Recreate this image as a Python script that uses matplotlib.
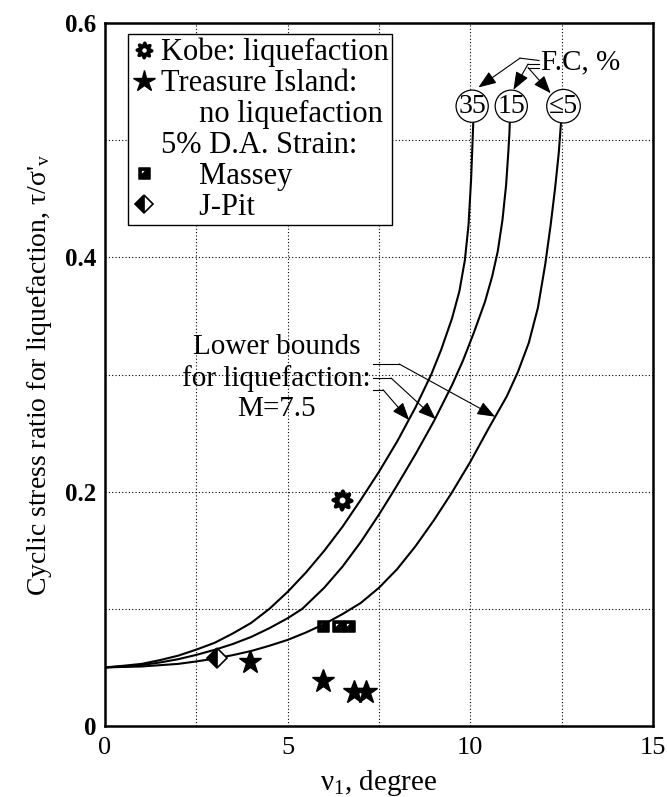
import numpy as np
import matplotlib
matplotlib.use("Agg")
import matplotlib.pyplot as plt
from matplotlib.lines import Line2D
from matplotlib.path import Path

plt.rcParams.update({
    "font.family": ["Liberation Serif", "DejaVu Serif"],
    "mathtext.fontset": "custom",
    "mathtext.rm": "Liberation Serif",
    "mathtext.it": "Liberation Serif:italic",
    "mathtext.bf": "Liberation Serif:bold",
})

# ---- values --------------------------------------------------------------
FC_LABELS = ["35", "15", "\u22645"]

FC35_X = [0, 0.5, 1, 1.5, 2, 2.5, 3, 3.5, 4, 4.5, 5, 5.5, 6, 6.5, 7, 7.5, 8, 8.5,
          8.93, 9.2, 9.5, 9.7, 9.85, 9.95, 10.02, 10.06, 10.08]
FC35_Y = [0.050, 0.0514, 0.053, 0.0562, 0.060, 0.0652, 0.071, 0.079, 0.088, 0.100,
          0.1145, 0.131, 0.1495, 0.170, 0.193, 0.217, 0.243, 0.272, 0.300, 0.321,
          0.348, 0.371, 0.3975, 0.4275, 0.466, 0.498, 0.515]

FC15_X = [0, 0.5, 1, 1.5, 2, 2.5, 3, 3.5, 4, 4.5, 5, 5.4, 6, 6.5, 7, 7.5, 7.8, 8,
          8.5, 9, 9.5, 9.8, 10.1, 10.4, 10.6, 10.75, 10.88, 10.98, 11.04, 11.07, 11.08]
FC15_Y = [0.050, 0.0508, 0.052, 0.0542, 0.057, 0.0607, 0.065, 0.070, 0.076, 0.0835,
          0.092, 0.100, 0.118, 0.136, 0.157, 0.1805, 0.1955, 0.2057, 0.232, 0.260,
          0.291, 0.312, 0.336, 0.362, 0.384, 0.405, 0.432, 0.462, 0.490, 0.506, 0.515]

FC5_X = [0, 1, 2, 2.5, 3, 3.5, 4, 4.5, 5, 5.5, 6, 6.5, 7, 7.5, 8, 8.5, 9, 9.5, 10,
         10.5, 11, 11.3, 11.6, 11.85, 12.05, 12.2, 12.32, 12.42, 12.48]
FC5_Y = [0.050, 0.0508, 0.053, 0.0551, 0.0575, 0.0605, 0.064, 0.0685, 0.0735,
         0.0798, 0.087, 0.0955, 0.105, 0.118, 0.134, 0.1535, 0.1755, 0.1995, 0.2255,
         0.254, 0.2815, 0.302, 0.327, 0.357, 0.394, 0.428, 0.459, 0.489, 0.514]

KOBE_X = [6.5]
KOBE_Y = [0.193]
TI_X = [3.97, 5.96, 6.81, 7.14]
TI_Y = [0.0545, 0.038, 0.029, 0.029]
MASSEY_X = [5.96, 6.39, 6.67]
MASSEY_Y = [0.085, 0.085, 0.085]
JPIT_X = [3.06]
JPIT_Y = [0.058]

X_TICKS = [0, 5, 10, 15]
Y_TICKS = [0, 0.2, 0.4, 0.6]
Y_TICK_LABELS = ["0", "0.2", "0.4", "0.6"]


def cog_marker(lobes=8, hole=0.42):
    t = np.linspace(0, 2 * np.pi, 97)
    r = 1 + 0.2 * np.cos(lobes * t + np.pi / 8)
    outer = np.column_stack([r * np.cos(t), r * np.sin(t)])
    inner = hole * np.column_stack([np.cos(t[::-1]), np.sin(t[::-1])])
    codes = [Path.MOVETO] + [Path.LINETO] * (len(t) - 2) + [Path.CLOSEPOLY]
    return Path(np.vstack([outer, inner]), codes * 2)


def half_square_marker():
    verts = [(-1, -1), (1, -1), (1, 1), (-1, 1), (-1, -1),
             (-0.6, 0.6), (0.35, 0.6), (-0.6, -0.35), (-0.6, 0.6)]
    codes = [Path.MOVETO, Path.LINETO, Path.LINETO, Path.LINETO, Path.CLOSEPOLY,
             Path.MOVETO, Path.LINETO, Path.LINETO, Path.CLOSEPOLY]
    return Path(verts, codes)


COG = cog_marker()
HSQ = half_square_marker()

fig = plt.figure(figsize=(6.67, 7.97), dpi=100)
ax = fig.add_axes([105 / 667, 1 - 726 / 797, 548 / 667, 703 / 797])

for xs, ys in [(FC35_X, FC35_Y), (FC15_X, FC15_Y), (FC5_X, FC5_Y)]:
    ax.plot(xs, ys, color="k", lw=1.5, zorder=3, solid_joinstyle="round")

ax.plot(KOBE_X, KOBE_Y, ls="none", marker=COG, ms=15, color="k", zorder=4)
ax.plot(TI_X, TI_Y, ls="none", marker="*", ms=17, color="k", zorder=4)
ax.plot(MASSEY_X, MASSEY_Y, ls="none", marker=HSQ, ms=8, color="k", zorder=4)
ax.plot(JPIT_X, JPIT_Y, ls="none", marker="D", ms=10, mfc="k", mfcalt="white",
        fillstyle="left", mec="k", mew=1.2, zorder=4)

# circled fines-content labels at the top of each curve
for x, lab in zip([10.05, 11.12, 12.55], FC_LABELS):
    ax.text(x, 0.529, lab, ha="center", va="center", fontsize=20, zorder=6,
            bbox=dict(boxstyle="circle,pad=0.08", fc="white", ec="k", lw=0.9))

arrow = dict(arrowstyle="-|>,head_length=1.1,head_width=0.42", color="k", lw=0.8,
             shrinkA=0, shrinkB=0, mutation_scale=10)

ax.text(11.93, 0.566, "F.C, %", ha="left", va="center", fontsize=21)
for start, knee, tip in [((11.88, 0.568), (11.36, 0.570), (10.22, 0.545)),
                         ((11.88, 0.565), (11.58, 0.565), (11.18, 0.543)),
                         ((11.88, 0.562), (11.58, 0.562), (12.2, 0.540))]:
    ax.plot([start[0], knee[0]], [start[1], knee[1]], color="k", lw=0.8)
    ax.annotate("", xy=tip, xytext=knee, arrowprops=arrow, zorder=7)

ax.text(4.7, 0.297, "Lower bounds\nfor liquefaction:\nM=7.5", ha="center", va="center",
        multialignment="center", fontsize=21)
for start, knee, tip in [((7.34, 0.309), (8.05, 0.309), (10.68, 0.264)),
                         ((7.34, 0.297), (7.83, 0.297), (9.05, 0.262)),
                         ((7.34, 0.287), (7.61, 0.287), (8.33, 0.261))]:
    ax.plot([start[0], knee[0]], [start[1], knee[1]], color="k", lw=0.8)
    ax.annotate("", xy=tip, xytext=knee, arrowprops=arrow)

ax.set_xlim(0, 15)
ax.set_ylim(0, 0.6)
ax.set_xticks(X_TICKS)
ax.set_xticklabels([str(v) for v in X_TICKS], fontsize=19)
ax.set_yticks(Y_TICKS)
ax.set_yticklabels(Y_TICK_LABELS, fontsize=18, fontweight="bold")
ax.set_xticks([2.5, 7.5, 12.5], minor=True)
ax.set_yticks([0.1, 0.3, 0.5], minor=True)
ax.tick_params(which="both", length=0)
ax.tick_params(axis="y", pad=6)
ax.tick_params(axis="x", pad=8)
ax.grid(True, which="both", color="k", lw=0.8, ls=(0, (1, 2)))
ax.set_axisbelow(True)
for s in ax.spines.values():
    s.set_linewidth(1.8)

ax.set_xlabel("\u03bd$_1$, degree", fontsize=21)
ax.xaxis.set_label_coords(0.5, -0.06)
ax.set_ylabel("Cyclic stress ratio for liquefaction, \u03c4/\u03c3'$_\\mathrm{v}$", fontsize=20)
ax.yaxis.set_label_coords(-0.093, 0.5)

blank = Line2D([], [], ls="none", marker="")
handles = [
    Line2D([], [], ls="none", marker=COG, ms=12, color="k"),
    Line2D([], [], ls="none", marker="*", ms=16, color="k"),
    blank, blank,
    Line2D([], [], ls="none", marker=HSQ, ms=8, color="k"),
    Line2D([], [], ls="none", marker="D", ms=9, mfc="k", mfcalt="white",
           fillstyle="left", mec="k", mew=1.2),
]
labels = ["Kobe: liquefaction", "Treasure Island:", "     no liquefaction",
          "5% D.A. Strain:", "     Massey", "     J-Pit"]
leg = ax.legend(handles, labels, loc="upper left", bbox_to_anchor=(0.042, 0.984),
                borderaxespad=0, fontsize=22, frameon=True, fancybox=False,
                edgecolor="k", framealpha=1, labelspacing=0.06, borderpad=0.12,
                handlelength=0.8, handletextpad=0.15)
leg.get_frame().set_linewidth(1.0)

fig.savefig("out.png", dpi=100)
